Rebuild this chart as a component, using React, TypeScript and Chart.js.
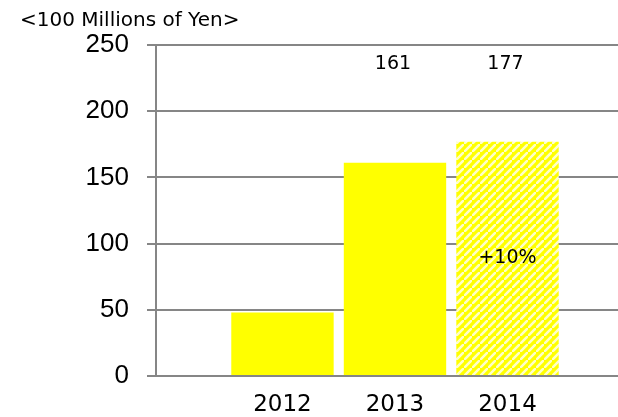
import React, { useEffect, useRef } from 'react';
import { Chart, registerables } from 'chart.js';

Chart.register(...registerables);

// ---- data ----
const years = ['2012', '2013', '2014'];
const sales = [48, 161, 177];
const topLabels = ['', '161', '177'];
const growthLabels = ['', '', '+10%'];
const isForecast = [false, false, true];
const unitLabel = '<100 Millions of Yen>';
const yMin = 0;
const yMax = 250;
const yStep = 50;

const YELLOW = '#ffff00';
const STRIPE = '#ffffc8';
const GRID = '#868686';

function makePattern(): CanvasPattern | string {
  const n = 8;
  const c = document.createElement('canvas');
  c.width = n;
  c.height = n;
  const g = c.getContext('2d');
  if (!g) return YELLOW;
  g.fillStyle = YELLOW;
  g.fillRect(0, 0, n, n);
  g.strokeStyle = STRIPE;
  g.lineWidth = 2.6;
  g.beginPath();
  g.moveTo(-2, n + 2); g.lineTo(n + 2, -2);
  g.moveTo(-n - 2, 2); g.lineTo(2, -n - 2);
  g.moveTo(n - 2, 2 * n + 2); g.lineTo(2 * n + 2, n - 2);
  g.stroke();
  return g.createPattern(c, 'repeat') || YELLOW;
}

const textPlugin = {
  id: 'textPlugin',
  afterDatasetsDraw(chart: any) {
    const ctx = chart.ctx;
    const meta = chart.getDatasetMeta(0);
    ctx.save();
    ctx.fillStyle = '#000';
    ctx.textBaseline = 'middle';
    ctx.font = '20px "DejaVu Sans"';
    ctx.textAlign = 'left';
    ctx.fillText(unitLabel, 20, 21);
    ctx.font = '19px "DejaVu Sans"';
    ctx.textAlign = 'center';
    meta.data.forEach((bar: any, i: number) => {
      if (topLabels[i]) ctx.fillText(topLabels[i], bar.x - 2, chart.chartArea.top + 19);
      if (growthLabels[i]) ctx.fillText(growthLabels[i], bar.x, (bar.y + bar.base) / 2);
    });
    ctx.restore();
  },
};

export default function App() {
  const ref = useRef<HTMLCanvasElement | null>(null);

  useEffect(() => {
    if (!ref.current) return;
    const pattern = makePattern();
    const colors = isForecast.map((f) => (f ? pattern : YELLOW));
    const chart = new Chart(ref.current, {
      type: 'bar',
      data: {
        datasets: [
          {
            data: sales.map((v, i) => ({ x: i + 1, y: v })),
            backgroundColor: colors as any,
            borderWidth: 0,
            barPercentage: 0.91,
            categoryPercentage: 1,
          },
        ],
      },
      plugins: [textPlugin],
      options: {
        animation: false,
        responsive: false,
        devicePixelRatio: 1,
        layout: { padding: { top: 45, left: 0, right: 0, bottom: 0 } },
        plugins: {
          legend: { display: false },
          tooltip: { enabled: false },
          title: { display: false },
        },
        scales: {
          x: {
            type: 'linear',
            offset: false,
            min: -0.124,
            max: 3.982,
            grid: { display: false, offset: false, drawTicks: false },
            border: { display: false },
            ticks: {
              stepSize: 1,
              includeBounds: false,
              autoSkip: false,
              maxRotation: 0,
              padding: 15,
              color: '#000',
              font: { family: '"DejaVu Sans"', size: 23 },
              callback: (v: any) => {
                const idx = Number(v) - 1;
                return Number.isInteger(Number(v)) && years[idx] ? years[idx] : '';
              },
            },
            afterFit: (s: any) => {
              s.height = 41;
            },
          },
          y: {
            min: yMin,
            max: yMax,
            grid: { color: GRID, lineWidth: 2, tickLength: 9, drawTicks: true },
            border: { display: true, color: GRID, width: 2 },
            ticks: {
              stepSize: yStep,
              padding: 18,
              color: '#000',
              font: { family: '"Liberation Sans", Arial', size: 26 },
            },
            afterFit: (s: any) => {
              s.width = 156;
            },
          },
        },
      },
    });
    return () => chart.destroy();
  }, []);

  return (
    <div style={{ position: 'fixed', left: 0, top: 0, width: 618, height: 417, background: '#fff' }}>
      <canvas ref={ref} width={618} height={417} />
    </div>
  );
}
